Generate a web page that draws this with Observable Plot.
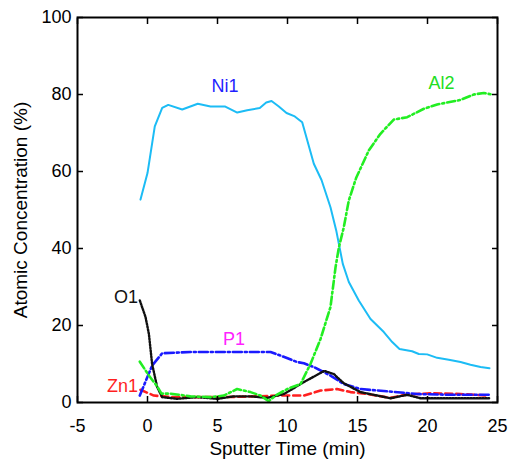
<!DOCTYPE html>
<html><head><meta charset="utf-8">
<script src="https://cdn.jsdelivr.net/npm/d3@7"></script>
<script src="https://cdn.jsdelivr.net/npm/@observablehq/plot@0.6"></script>
<style>body{margin:0;background:#fff}</style>
</head><body><div id="chart"></div>
<script>
const xTicks = [-5, 0, 5, 10, 15, 20, 25];
const yTicks = [0, 20, 40, 60, 80, 100];

const ni1 = [[-0.5,52.7],[0,59.6],[0.52,71.7],[1.05,76.5],[1.48,77.3],[2.48,76.1],[3.59,77.6],[4.5,76.9],[5.52,76.9],[6.41,75.3],[7.12,75.9],[8.02,76.5],[8.48,77.9],[8.86,78.3],[9.38,76.9],[9.93,75.2],[10.52,74.3],[11.05,72.8],[11.88,62.0],[12.43,57.8],[13.07,50.7],[13.48,44.7],[13.95,36.0],[14.38,31.3],[15.09,26.5],[15.93,21.7],[16.88,18.3],[17.48,15.7],[18.0,13.9],[18.9,13.3],[19.38,12.6],[19.98,12.5],[20.69,11.6],[21.52,11.1],[22.36,10.5],[23.07,9.8],[23.79,9.2],[24.43,8.9]];
const al2 = [[-0.55,10.6],[0.1,7.0],[0.69,4.2],[1.0,2.3],[1.64,2.3],[3.07,1.6],[4.5,1.4],[5.45,1.8],[6.4,3.5],[7.36,2.7],[8.07,1.8],[8.66,0.35],[9.14,1.8],[9.98,3.5],[10.93,4.8],[11.64,10.0],[12.36,16.5],[13.07,24.8],[13.43,35.1],[13.67,40.3],[14.02,45.5],[14.38,52.5],[14.9,58.3],[15.81,65.5],[16.64,69.8],[17.59,73.5],[18.55,74.1],[19.74,76.3],[20.69,77.4],[22.36,78.6],[23.31,80.0],[24.02,80.4],[24.6,80.0]];
const p1 = [[-0.55,1.8],[0.33,9.6],[1.05,12.8],[3.07,13.1],[8.79,13.1],[9.5,12.2],[10.69,10.5],[11.17,10.2],[11.88,9.2],[13.07,7.0],[14.02,4.8],[15.21,3.5],[17.12,2.9],[19.26,2.2],[21.64,2.0],[24.4,2.0]];
const o1 = [[-0.55,26.5],[-0.14,22.2],[0.1,17.8],[0.33,10.0],[0.69,4.0],[1.05,1.4],[2.12,0.95],[3.55,1.4],[4.98,0.95],[6.17,1.6],[7.36,1.6],[8.55,1.2],[9.74,2.2],[11.17,5.3],[12.62,8.2],[13.31,7.4],[14.02,5.0],[15.21,2.7],[17.36,1.1],[18.55,2.0],[19.5,1.1],[24.4,1.1]];
const zn1 = [[-0.5,3.3],[0.45,1.8],[1.88,1.4],[5.45,1.4],[7.83,1.6],[9.26,1.8],[10.45,1.8],[11.17,1.8],[12.36,3.1],[13.55,3.5],[14.5,2.7],[15.69,2.2],[17.36,1.2],[18.55,2.1],[20.45,2.4],[22.36,2.2],[24.4,1.8]];

const labelNames = ["Ni1", "Al2", "O1", "P1", "Zn1"];
const labelT = [5.54, 21.0, -1.54, 6.18, -1.79];
const labelC = [82.1, 82.9, 27.3, 16.4, 4.2];
const labelColors = ["#1f1fff", "#22dd22", "#111111", "#ff22ff", "#ff1f1f"];
const labels = labelNames.map((n, i) => ({n, t: labelT[i], c: labelC[i], col: labelColors[i]}));

const fmt = d => String(d);
const font = "Liberation Sans, Arial, Helvetica, sans-serif";

const chart = Plot.plot({
  width: 512, height: 459,
  marginLeft: 77, marginRight: 15, marginTop: 17, marginBottom: 57,
  style: {fontFamily: font, fontSize: "18px", background: "#fff", color: "#000"},
  x: {domain: [-5, 25]},
  y: {domain: [0, 100]},
  marks: [
    Plot.line(ni1, {x: d => d[0], y: d => d[1], stroke: "#1cbcf5", strokeWidth: 2}),
    Plot.line(zn1, {x: d => d[0], y: d => d[1], stroke: "#ff1f1f", strokeWidth: 2.6, strokeDasharray: "7,4"}),
    Plot.line(p1, {x: d => d[0], y: d => d[1], stroke: "#1a1aff", strokeWidth: 2.6, strokeDasharray: "9,3,2,3"}),
    Plot.line(o1, {x: d => d[0], y: d => d[1], stroke: "#111", strokeWidth: 2.4, strokeDasharray: "1.5,1.5"}),
    Plot.line(al2, {x: d => d[0], y: d => d[1], stroke: "#22ee22", strokeWidth: 2.6, strokeDasharray: "8,3,2,3"}),
    Plot.text(labels, {x: "t", y: "c", text: "n", fill: "col", fontSize: 18}),
    Plot.frame({stroke: "#000", strokeWidth: 2}),
    Plot.axisX({anchor: "bottom", ticks: xTicks, tickSize: 0, tickPadding: 17, tickFormat: fmt, fontSize: 18, label: null}),
    Plot.axisX({anchor: "bottom", ticks: xTicks, tickSize: -6, tickFormat: () => "", label: null, strokeWidth: 1.5}),
    Plot.axisX({anchor: "top", ticks: xTicks, tickSize: -6, tickFormat: () => "", label: null, strokeWidth: 1.5}),
    Plot.axisY({anchor: "left", ticks: yTicks, tickSize: 0, tickPadding: 6, tickFormat: fmt, fontSize: 18, label: null}),
    Plot.axisY({anchor: "left", ticks: yTicks, tickSize: -6, tickFormat: () => "", label: null, strokeWidth: 1.5}),
    Plot.axisY({anchor: "right", ticks: yTicks, tickSize: -6, tickFormat: () => "", label: null, strokeWidth: 1.5}),
    Plot.text(["Sputter Time (min)"], {frameAnchor: "bottom", dy: 46, lineAnchor: "middle", textAnchor: "middle", fontSize: 19, fill: "#000"}),
    Plot.text(["Atomic Concentration (%)"], {frameAnchor: "left", dx: -57, rotate: -90, textAnchor: "middle", lineAnchor: "middle", fontSize: 19, fill: "#000"})
  ]
});
document.getElementById("chart").appendChild(chart);
</script>
</body></html>
